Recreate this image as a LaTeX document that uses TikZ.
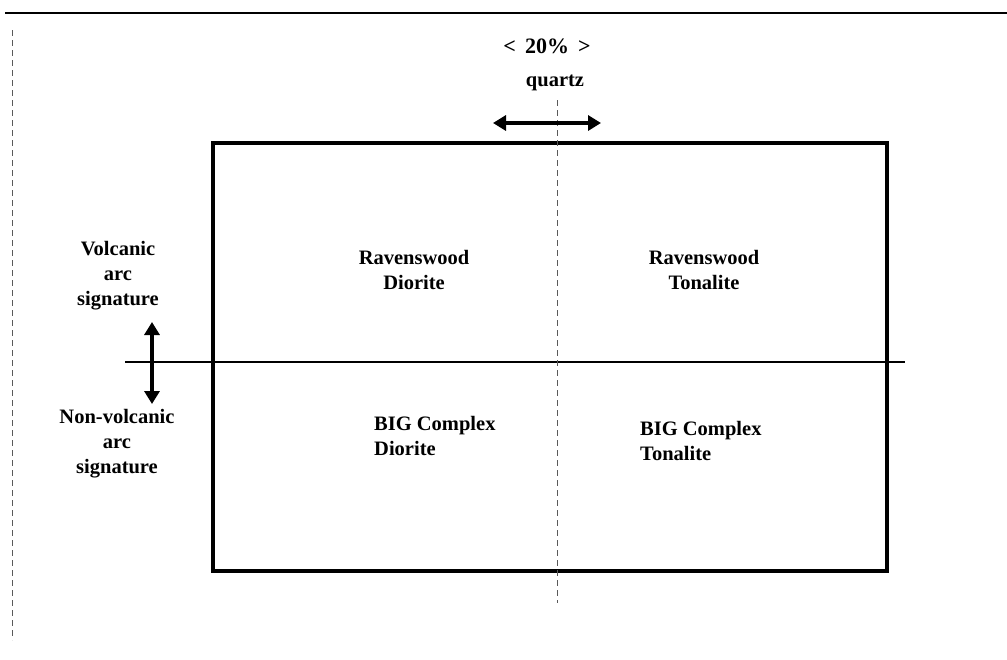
\documentclass[tikz,border=0pt]{standalone}
\usepackage{fontspec}
\setmainfont{Liberation Serif}
\usetikzlibrary{arrows.meta}
\tikzset{
  lbl/.style={font=\fontsize{20.5}{25}\selectfont\bfseries, align=center, inner sep=0pt},
  lbll/.style={font=\fontsize{20.5}{25}\selectfont\bfseries, align=left, inner sep=0pt},
  frame/.style={line width=3.6pt},
  axis/.style={line width=2.4pt},
  guide/.style={line width=1pt, dash pattern=on 6pt off 4pt, black!65},
  dbl/.style={line width=4pt, {Triangle[length=13pt,width=15pt]}-{Triangle[length=13pt,width=15pt]}}
}
\begin{document}
\begin{tikzpicture}[x=1pt,y=-1pt]
\useasboundingbox (0,0) rectangle (1007,659);
% page border remnants
\coordinate (tl) at (5,13);
\coordinate (tr) at (1007,13);
\coordinate (bl) at (12,640);
\draw[line width=2pt] (tl) -- (tr);
\draw[guide] (12,30) -- (bl);
% main box
\node[draw, frame, minimum width=674pt, minimum height=428pt, inner sep=0pt] (box) at (550,357) {};
% axes
\coordinate (hl) at (125,362);
\coordinate (hr) at (905,362);
\draw[axis] (hl) -- (hr);
\coordinate (vt) at (557,100);
\coordinate (vb) at (557,603);
\draw[guide] (vt) -- (vb);
% labels
\node[lbl, font=\fontsize{22}{26}\selectfont\bfseries] (pct) at (547,46) {\textless\hspace{9pt}20\%\hspace{9pt}\textgreater};
\node[lbl] (qz) at (555,83) {quartz};
\coordinate (qa) at (493,123);
\coordinate (qb) at (601,123);
\draw[dbl] (qa) -- (qb);
\node[lbl] (volc) at (118,276) {Volcanic\\arc\\signature};
\node[lbl] (nonv) at (117,444) {Non-volcanic\\arc\\signature};
\coordinate (va) at (152,322);
\coordinate (vbb) at (152,404);
\draw[dbl] (va) -- (vbb);
\node[lbl] (rd) at (414,270) {Ravenswood\\Diorite};
\node[lbl] (rt) at (704,270) {Ravenswood\\Tonalite};
\node[lbll, anchor=west] (bd) at (374,436) {BIG Complex\\Diorite};
\node[lbll, anchor=west] (bt) at (640,441) {BIG Complex\\Tonalite};
\end{tikzpicture}
\end{document}
